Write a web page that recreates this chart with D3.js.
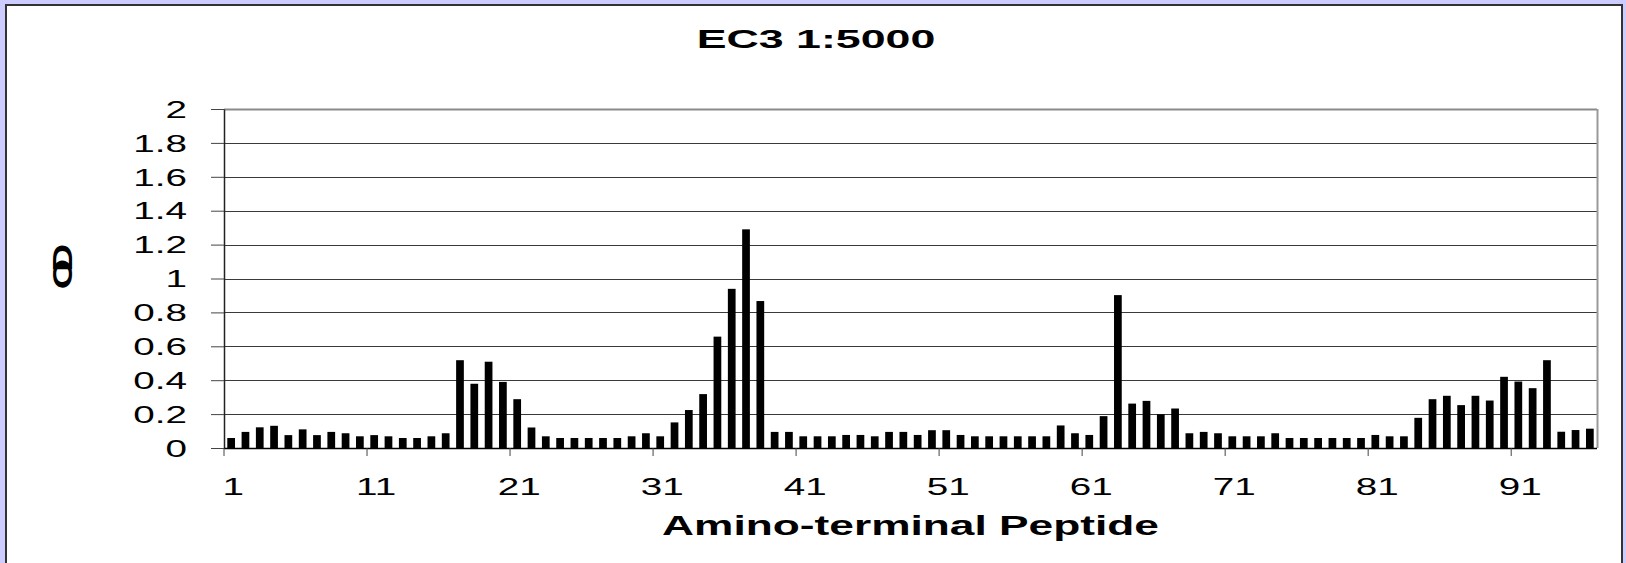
<!DOCTYPE html>
<html>
<head>
<meta charset="utf-8">
<script src="https://cdn.jsdelivr.net/npm/d3@7"></script>
<style>
  html, body { margin: 0; padding: 0; background: #ccccff; }
  svg { display: block; }
  text { font-family: "Liberation Sans", Arial, sans-serif; fill: #000; }
</style>
</head>
<body>
<svg id="chart" width="1626" height="563"></svg>
<script>
// ---- data ----
const chartTitle = "EC3 1:5000";
const xAxisTitle = "Amino-terminal Peptide";
const yAxisTitle = "OD";
const categories = d3.range(1, 97);
const values = [
  0.059, 0.095, 0.122, 0.131, 0.076, 0.110, 0.076, 0.095, 0.087, 0.069,
  0.076, 0.069, 0.059, 0.059, 0.069, 0.087, 0.518, 0.379, 0.509, 0.390,
  0.288, 0.121, 0.069, 0.059, 0.059, 0.059, 0.059, 0.059, 0.069, 0.087,
  0.069, 0.151, 0.224, 0.318, 0.657, 0.939, 1.290, 0.867, 0.095, 0.095,
  0.069, 0.069, 0.069, 0.077, 0.077, 0.069, 0.095, 0.095, 0.077, 0.105,
  0.105, 0.077, 0.069, 0.069, 0.069, 0.069, 0.069, 0.069, 0.133, 0.087,
  0.077, 0.188, 0.902, 0.262, 0.278, 0.199, 0.233, 0.087, 0.095, 0.087,
  0.069, 0.069, 0.069, 0.087, 0.059, 0.059, 0.059, 0.059, 0.059, 0.059,
  0.077, 0.069, 0.069, 0.178, 0.288, 0.308, 0.253, 0.308, 0.280, 0.420,
  0.392, 0.353, 0.518, 0.096, 0.106, 0.114
];
const yTicks = [0, 0.2, 0.4, 0.6, 0.8, 1, 1.2, 1.4, 1.6, 1.8, 2];
const yTickLabels = ["0", "0.2", "0.4", "0.6", "0.8", "1", "1.2", "1.4", "1.6", "1.8", "2"];
const xLabelCats = [1, 11, 21, 31, 41, 51, 61, 71, 81, 91];

// ---- layout ----
const SX = 1.68; // horizontal text stretch as in the reference
const plot = { left: 224, right: 1597, top: 109, bottom: 448 };
const svg = d3.select("#chart");

// white panel
svg.append("rect")
  .attr("x", 6).attr("y", 5).attr("width", 1616).attr("height", 600)
  .attr("fill", "#fff").attr("stroke", "#333").attr("stroke-width", 2);

const pad = 0.46;
const x = d3.scaleBand().domain(categories)
  .range([plot.left, plot.right]).paddingInner(pad).paddingOuter(pad / 2);
const y = d3.scaleLinear().domain([0, 2]).range([plot.bottom, plot.top]);
const step = x.step();
const boundary = c => x(c) - pad * step / 2;

// gridlines
svg.append("g").selectAll("line").data(yTicks.filter(v => v > 0)).join("line")
  .attr("x1", plot.left).attr("x2", plot.right)
  .attr("y1", d => Math.round(y(d)) + 0.5).attr("y2", d => Math.round(y(d)) + 0.5)
  .attr("stroke", d => d === 2 ? "#8a8a8a" : "#3a3a3a")
  .attr("stroke-width", d => d === 2 ? 2 : 1);

// right border of plot area
svg.append("line")
  .attr("x1", plot.right + 0.5).attr("x2", plot.right + 0.5)
  .attr("y1", plot.top).attr("y2", plot.bottom)
  .attr("stroke", "#9a9a9a").attr("stroke-width", 2);

// bars
svg.append("g").selectAll("rect").data(values).join("rect")
  .attr("x", (d, i) => x(categories[i]))
  .attr("width", x.bandwidth())
  .attr("y", d => y(d))
  .attr("height", d => y(0) - y(d))
  .attr("fill", "#000");

// y axis
const yAxis = svg.append("g")
  .attr("transform", `translate(${plot.left},0)`)
  .call(d3.axisLeft(y).tickValues(yTicks).tickSize(13).tickSizeOuter(0)
    .tickFormat((d, i) => yTickLabels[i]));
yAxis.select(".domain").attr("stroke", "#222").attr("stroke-width", 1.5);
yAxis.selectAll(".tick line").attr("stroke", "#444");
yAxis.selectAll(".tick text")
  .attr("font-size", 23)
  .attr("text-anchor", "end")
  .attr("x", -37 / SX)
  .attr("dy", "0.36em")
  .attr("transform", `scale(${SX},1)`);

// x axis line
svg.append("line")
  .attr("x1", plot.left).attr("x2", plot.right)
  .attr("y1", plot.bottom + 0.5).attr("y2", plot.bottom + 0.5)
  .attr("stroke", "#000").attr("stroke-width", 1.5);

// x ticks at category boundaries
svg.append("g").selectAll("line").data(xLabelCats).join("line")
  .attr("x1", d => boundary(d)).attr("x2", d => boundary(d))
  .attr("y1", plot.bottom).attr("y2", plot.bottom + 8)
  .attr("stroke", "#444").attr("stroke-width", 1);

// x tick labels
svg.append("g").selectAll("text").data(xLabelCats).join("text")
  .attr("transform", d => `translate(${x(d) + x.bandwidth() / 2 + 2},495) scale(${SX},1)`)
  .attr("text-anchor", "middle")
  .attr("font-size", 23)
  .text(d => d);

// title
svg.append("text")
  .attr("transform", `translate(816,48) scale(1.72,1)`)
  .attr("text-anchor", "middle")
  .attr("font-size", 26).attr("font-weight", "bold")
  .text(chartTitle);

// x axis title
svg.append("text")
  .attr("transform", `translate(${(plot.left + plot.right) / 2},535) scale(1.64,1)`)
  .attr("text-anchor", "middle")
  .attr("font-size", 27).attr("font-weight", "bold")
  .text(xAxisTitle);

// y axis title (garbled, overlapping glyphs in the reference)
svg.append("text")
  .attr("transform", "translate(72,273) rotate(-90) scale(1.45,1)")
  .attr("text-anchor", "middle")
  .attr("font-size", 27).attr("font-weight", "bold")
  .attr("letter-spacing", -9)
  .text(yAxisTitle);
</script>
</body>
</html>
